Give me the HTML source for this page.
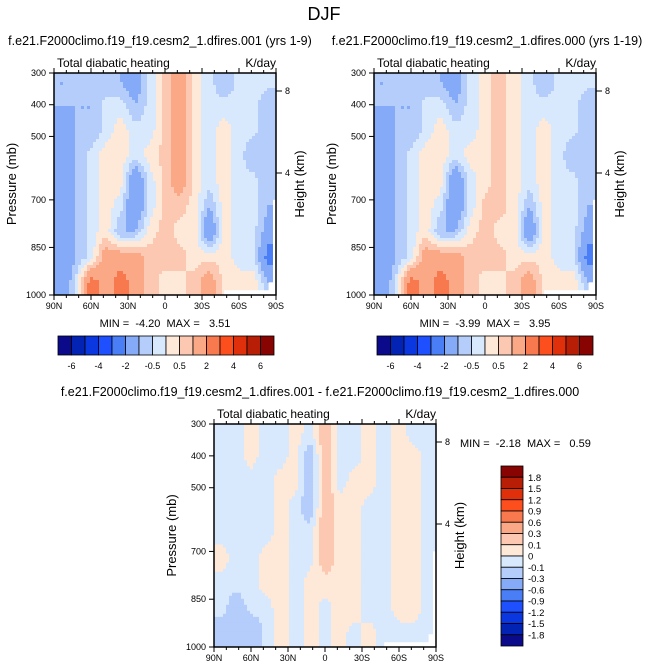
<!DOCTYPE html>
<html><head><meta charset="utf-8">
<style>
html,body{margin:0;padding:0;background:#fff;overflow:hidden;width:648px;height:671px;}
svg{display:block;}
svg text{font-family:"Liberation Sans",Arial,sans-serif;fill:#000;white-space:pre;}
</style></head>
<body>
<svg id="fig" width="648" height="671" viewBox="0 0 648 671" xmlns="http://www.w3.org/2000/svg">
<text x="324" y="20" font-size="18" text-anchor="middle">DJF</text>
</svg>
<script>
const latLabels=["90N","60N","30N","0","30S","60S","90S"];
const presTicks=[300,400,500,700,850,1000];
const heightTicks=[8,4];
const colors=["#0b0a8a","#0323b5","#0a37e0","#1e50ff","#4a7ef6","#84aaf8","#b4cdfb","#d8e9fd","#fee9d8","#fdc8b1","#fba886","#f9794f","#fd4e1e","#e0300b","#b81e06","#870402"];
const levelsA=[-6,-5,-4,-3,-2,-1,-0.5,0,0.5,1,2,3,4,5,6];
const levelsAlabels=["-6","-4","-2","-0.5","0.5","2","4","6"];
const levelsB=[-1.8,-1.5,-1.2,-0.9,-0.6,-0.3,-0.1,0,0.1,0.3,0.6,0.9,1.2,1.5,1.8];
const gridLats=[84,72,60,48,36,24,12,0,-12,-24,-36,-48,-60,-72,-84];
const gridPres=[330,400,480,560,640,720,800,880,960];
const data1=[
[-1,-1,-1,-1,-1,-1.5,-0.3,0.7,1.5,0.3,-0.3,-1,-0.3,-0.3,-0.3],
[-1,-1,-1,-0.3,-0.3,-1,-0.3,0.7,1.5,0.3,-0.3,-0.3,-0.3,-0.3,-1],
[-2,-1,-1,-0.3,0.3,-0.3,-0.3,0.7,1.5,0.3,-0.3,0.3,-0.3,-0.3,-1],
[-2,-1,-0.3,0.3,0.3,-0.3,0.3,0.7,1.5,0.3,-0.3,0.3,-0.3,-1,-1],
[-2,-1,-0.3,0.3,0.3,-2,-0.3,0.7,1.5,0.3,-0.3,0.3,-0.3,-0.3,-1],
[-2,-1,-0.3,0.3,-0.3,-2,-0.3,0.7,0.7,0.3,-1,0.3,-0.3,-0.3,-1],
[-2,-1,-0.3,0.3,-1,-1,0.3,0.7,0.3,0.3,-2,0.3,-0.3,-0.3,-1.5],
[-2,-1,-0.3,1.5,1.5,1.5,0.7,0.7,0.7,0.3,0.3,0.3,-0.3,-0.3,-2.5],
[-2,-0.3,2.5,1.5,2.5,1.5,0.7,0.3,0.3,0.7,1.5,0.3,0.3,0.3,-1]];
const data2=[
[-1,-1,-1,-1,-1,-1.5,-0.3,0.3,0.7,0.3,-0.3,-1,-0.3,-0.3,-0.3],
[-1,-1,-1,-0.3,-0.3,-1,-0.3,0.3,0.7,0.3,-0.3,-0.3,-0.3,-0.3,-1],
[-2,-1,-1,-0.3,0.3,-0.3,-0.3,0.3,0.7,0.3,-0.3,0.3,-0.3,-0.3,-1],
[-2,-1,-0.3,0.3,0.3,-0.3,0.3,0.3,0.7,0.3,-0.3,0.3,-0.3,-1,-1],
[-2,-1,-0.3,0.3,0.3,-2,-0.3,0.3,0.7,0.3,-0.3,0.3,-0.3,-0.3,-1],
[-2,-1,-0.3,0.3,-0.3,-2,-0.3,0.7,0.7,0.3,-1,0.3,-0.3,-0.3,-1],
[-2,-1,-0.3,0.3,-1,-1,0.3,0.7,0.3,0.3,-2,0.3,-0.3,-0.3,-1.5],
[-2,-1,-0.3,1.5,1.5,1.5,0.7,0.7,0.7,0.3,0.3,0.3,-0.3,-0.3,-2.5],
[-2,-0.3,2.5,1.5,2.5,1.5,0.7,0.3,0.3,0.7,1.5,0.3,0.3,0.3,-1]];
const data3=[
[-0.05,-0.05,0.05,-0.05,-0.05,0.05,-0.05,0.2,-0.05,-0.05,0.05,-0.05,0.05,-0.05,-0.05],
[-0.05,-0.05,0.05,-0.05,-0.05,0.05,-0.2,0.2,-0.05,-0.05,0.05,-0.05,0.05,0.05,-0.05],
[-0.05,-0.05,-0.05,-0.05,0.05,0.05,-0.2,0.2,-0.05,0.05,0.05,-0.05,0.05,0.05,-0.05],
[-0.05,-0.05,-0.05,-0.05,0.05,-0.05,-0.2,0.2,0.05,0.05,-0.05,-0.05,0.05,0.05,-0.05],
[-0.05,-0.05,-0.05,-0.05,0.05,-0.05,-0.05,0.2,0.05,0.05,-0.05,-0.05,0.05,0.05,-0.05],
[0.05,-0.05,-0.05,0.05,0.05,-0.05,-0.05,0.2,0.05,0.05,-0.05,-0.05,0.05,0.05,-0.05],
[-0.05,-0.05,-0.05,0.05,0.05,-0.05,0.05,0.05,0.05,0.05,-0.05,-0.05,0.05,0.05,-0.05],
[-0.05,-0.2,-0.05,-0.05,0.05,-0.05,0.05,-0.05,0.05,0.05,-0.05,-0.05,0.05,0.05,-0.05],
[-0.2,-0.2,-0.3,-0.05,0.05,-0.05,0.05,-0.05,0.05,-0.05,0.05,-0.05,-0.05,-0.05,-0.05]];
const NS="http://www.w3.org/2000/svg";
const svg=document.getElementById('fig');
function mk(tag,attrs,parent,text){const e=document.createElementNS(NS,tag);for(const k in attrs)e.setAttribute(k,attrs[k]);if(text!==undefined)e.textContent=text;(parent||svg).appendChild(e);return e;}
function binIdx(v,lv){let c=0;for(const t of lv)if(t<=v)c++;return c;}
function interp(coords,v,desc){
  const n=coords.length;
  if(desc){ if(v>=coords[0])return[0,0]; if(v<=coords[n-1])return[n-2,1];
    for(let i=0;i<n-1;i++){if(v<=coords[i]&&v>=coords[i+1])return[i,(coords[i]-v)/(coords[i]-coords[i+1])];}}
  else{ if(v<=coords[0])return[0,0]; if(v>=coords[n-1])return[n-2,1];
    for(let i=0;i<n-1;i++){if(v>=coords[i]&&v<=coords[i+1])return[i,(v-coords[i])/(coords[i+1]-coords[i])];}}
  return[0,0];
}
function sample(data,lat,p){
  const [c,fx]=interp(gridLats,lat,true);
  const [r,fy]=interp(gridPres,p,false);
  const a=data[r][c],b=data[r][c+1],d=data[r+1][c],e=data[r+1][c+1];
  return a*(1-fx)*(1-fy)+b*fx*(1-fy)+d*(1-fx)*fy+e*fx*fy;
}
let defs=mk('defs',{});
function panel(id,x0,y0,w,h,data,lv,title,minmax,mmx,mmy,mmAnchor){
  const xS=lat=>x0+(90-lat)/180*w;
  const yS=p=>y0+(p-300)/700*h;
  const cp=mk('clipPath',{id:'c'+id},defs);mk('rect',{x:x0,y:y0,width:w,height:h},cp);
  const g=mk('g',{'clip-path':'url(#c'+id+')'});
  
  
  const NX=74,NY=74,cw=w/NX,ch=h/NY;
  for(let j=0;j<NY;j++){
    const p=300+(j+0.5)/NY*700;
    let start=0,cur=-1;
    for(let i=0;i<=NX;i++){
      let idx=-2;
      if(i<NX){const lat=90-(i+0.5)/NX*180;idx=binIdx(sample(data,lat,p),lv);}
      if(idx!==cur){
        if(cur>=0){const cell=mk('rect',{x:x0+start*cw,y:y0+j*ch,width:(i-start)*cw+0.6,height:ch+0.6,fill:colors[cur]},g);
          
          }
        start=i;cur=idx;
      }
    }
  }
  mk('rect',{x:xS(-48),y:yS(985),width:w,height:20,fill:'#fff'},g);
  mk('rect',{x:xS(-84),y:yS(960),width:w,height:60,fill:'#fff'},g);
  mk('rect',{x:x0+w-3,y:yS(700),width:5,height:h,fill:'#fff'},g);
  const fr=mk('rect',{x:x0,y:y0,width:w,height:h,fill:'none',stroke:'#000','stroke-width':1.5});
  
  
  latLabels.forEach((lb,i)=>{const x=x0+i*w/6;
    mk('line',{x1:x,x2:x,y1:y0+h,y2:y0+h+5,stroke:'#000'});
    mk('line',{x1:x,x2:x,y1:y0,y2:y0-5,stroke:'#000'});
    const t=mk('text',{x:x,y:y0+h+14,'font-size':9,'text-anchor':'middle'},svg,lb);
    
    
  });
  for(let i=0;i<=18;i++){const x=x0+i*w/18;mk('line',{x1:x,x2:x,y1:y0+h,y2:y0+h+3,stroke:'#000'});mk('line',{x1:x,x2:x,y1:y0,y2:y0-3,stroke:'#000'});}
  presTicks.forEach(p=>{const y=yS(p);
    mk('line',{x1:x0-5,x2:x0,y1:y,y2:y,stroke:'#000'});
    const t=mk('text',{x:x0-8,y:y+3,'font-size':9,'text-anchor':'end'},svg,String(p));
    
    
  });
  const hy={8:y0+18,4:y0+100};
  heightTicks.forEach(k=>{const y=hy[k];
    mk('line',{x1:x0+w,x2:x0+w+6,y1:y,y2:y,stroke:'#000'});
    const t=mk('text',{x:x0+w+9,y:y+3,'font-size':9},svg,String(k));
    
    
  });
  let t=mk('text',{x:0,y:0,'font-size':13,'text-anchor':'middle',transform:`translate(${x0-38},${y0+h/2}) rotate(-90)`},svg,'Pressure (mb)');
  
  t=mk('text',{x:0,y:0,'font-size':13,'text-anchor':'middle',transform:`translate(${x0+w+28},${y0+h/2}) rotate(-90)`},svg,'Height (km)');
  
  t=mk('text',{x:x0+3,y:y0-6,'font-size':12},svg,'Total diabatic heating');
  
  t=mk('text',{x:x0+w,y:y0-6,'font-size':12,'text-anchor':'end'},svg,'K/day');
  
  t=mk('text',{x:title[1],y:title[2],'font-size':12.5,'text-anchor':'middle'},svg,title[0]);
  
  t=mk('text',{x:mmx,y:mmy,'font-size':11,'text-anchor':mmAnchor},svg,minmax);
  
}
function hbar(x0,y0,w,h){
  const bw=w/16;
  colors.forEach((c,i)=>{const r=mk('rect',{x:x0+i*bw,y:y0,width:bw,height:h,fill:c,stroke:'#000','stroke-width':0.8});
    });
  levelsAlabels.forEach((lb,i)=>{const t=mk('text',{x:x0+(2*i+1)*bw,y:y0+h+14,'font-size':9,'text-anchor':'middle'},svg,lb);
    });
}
panel('a',54,73,222,222,data1,levelsA,['f.e21.F2000climo.f19_f19.cesm2_1.dfires.001 (yrs 1-9)',160,45],'MIN =  -4.20  MAX =   3.51',165,327,'middle');
panel('b',374,73,222,222,data2,levelsA,['f.e21.F2000climo.f19_f19.cesm2_1.dfires.000 (yrs 1-19)',487,45],'MIN =  -3.99  MAX =   3.95',485,327,'middle');
hbar(58,336,216,19);
hbar(377,336,216,19);
panel('c',214,424,222,223,data3,levelsB,['f.e21.F2000climo.f19_f19.cesm2_1.dfires.001 - f.e21.F2000climo.f19_f19.cesm2_1.dfires.000',320,396],'MIN =  -2.18  MAX =   0.59',460,447,'start');
(function(){const x0=501,y0=466,w=22,h=180,bh=h/16;
  colors.slice().reverse().forEach((c,i)=>{const r=mk('rect',{x:x0,y:y0+i*bh,width:w,height:bh,fill:c,stroke:'#000','stroke-width':0.8});
    });
  levelsB.slice().reverse().forEach((v,i)=>{const t=mk('text',{x:x0+w+5,y:y0+(i+1)*bh+3.5,'font-size':9.5},svg,String(v));
    });
})();
</script>
</body></html>
